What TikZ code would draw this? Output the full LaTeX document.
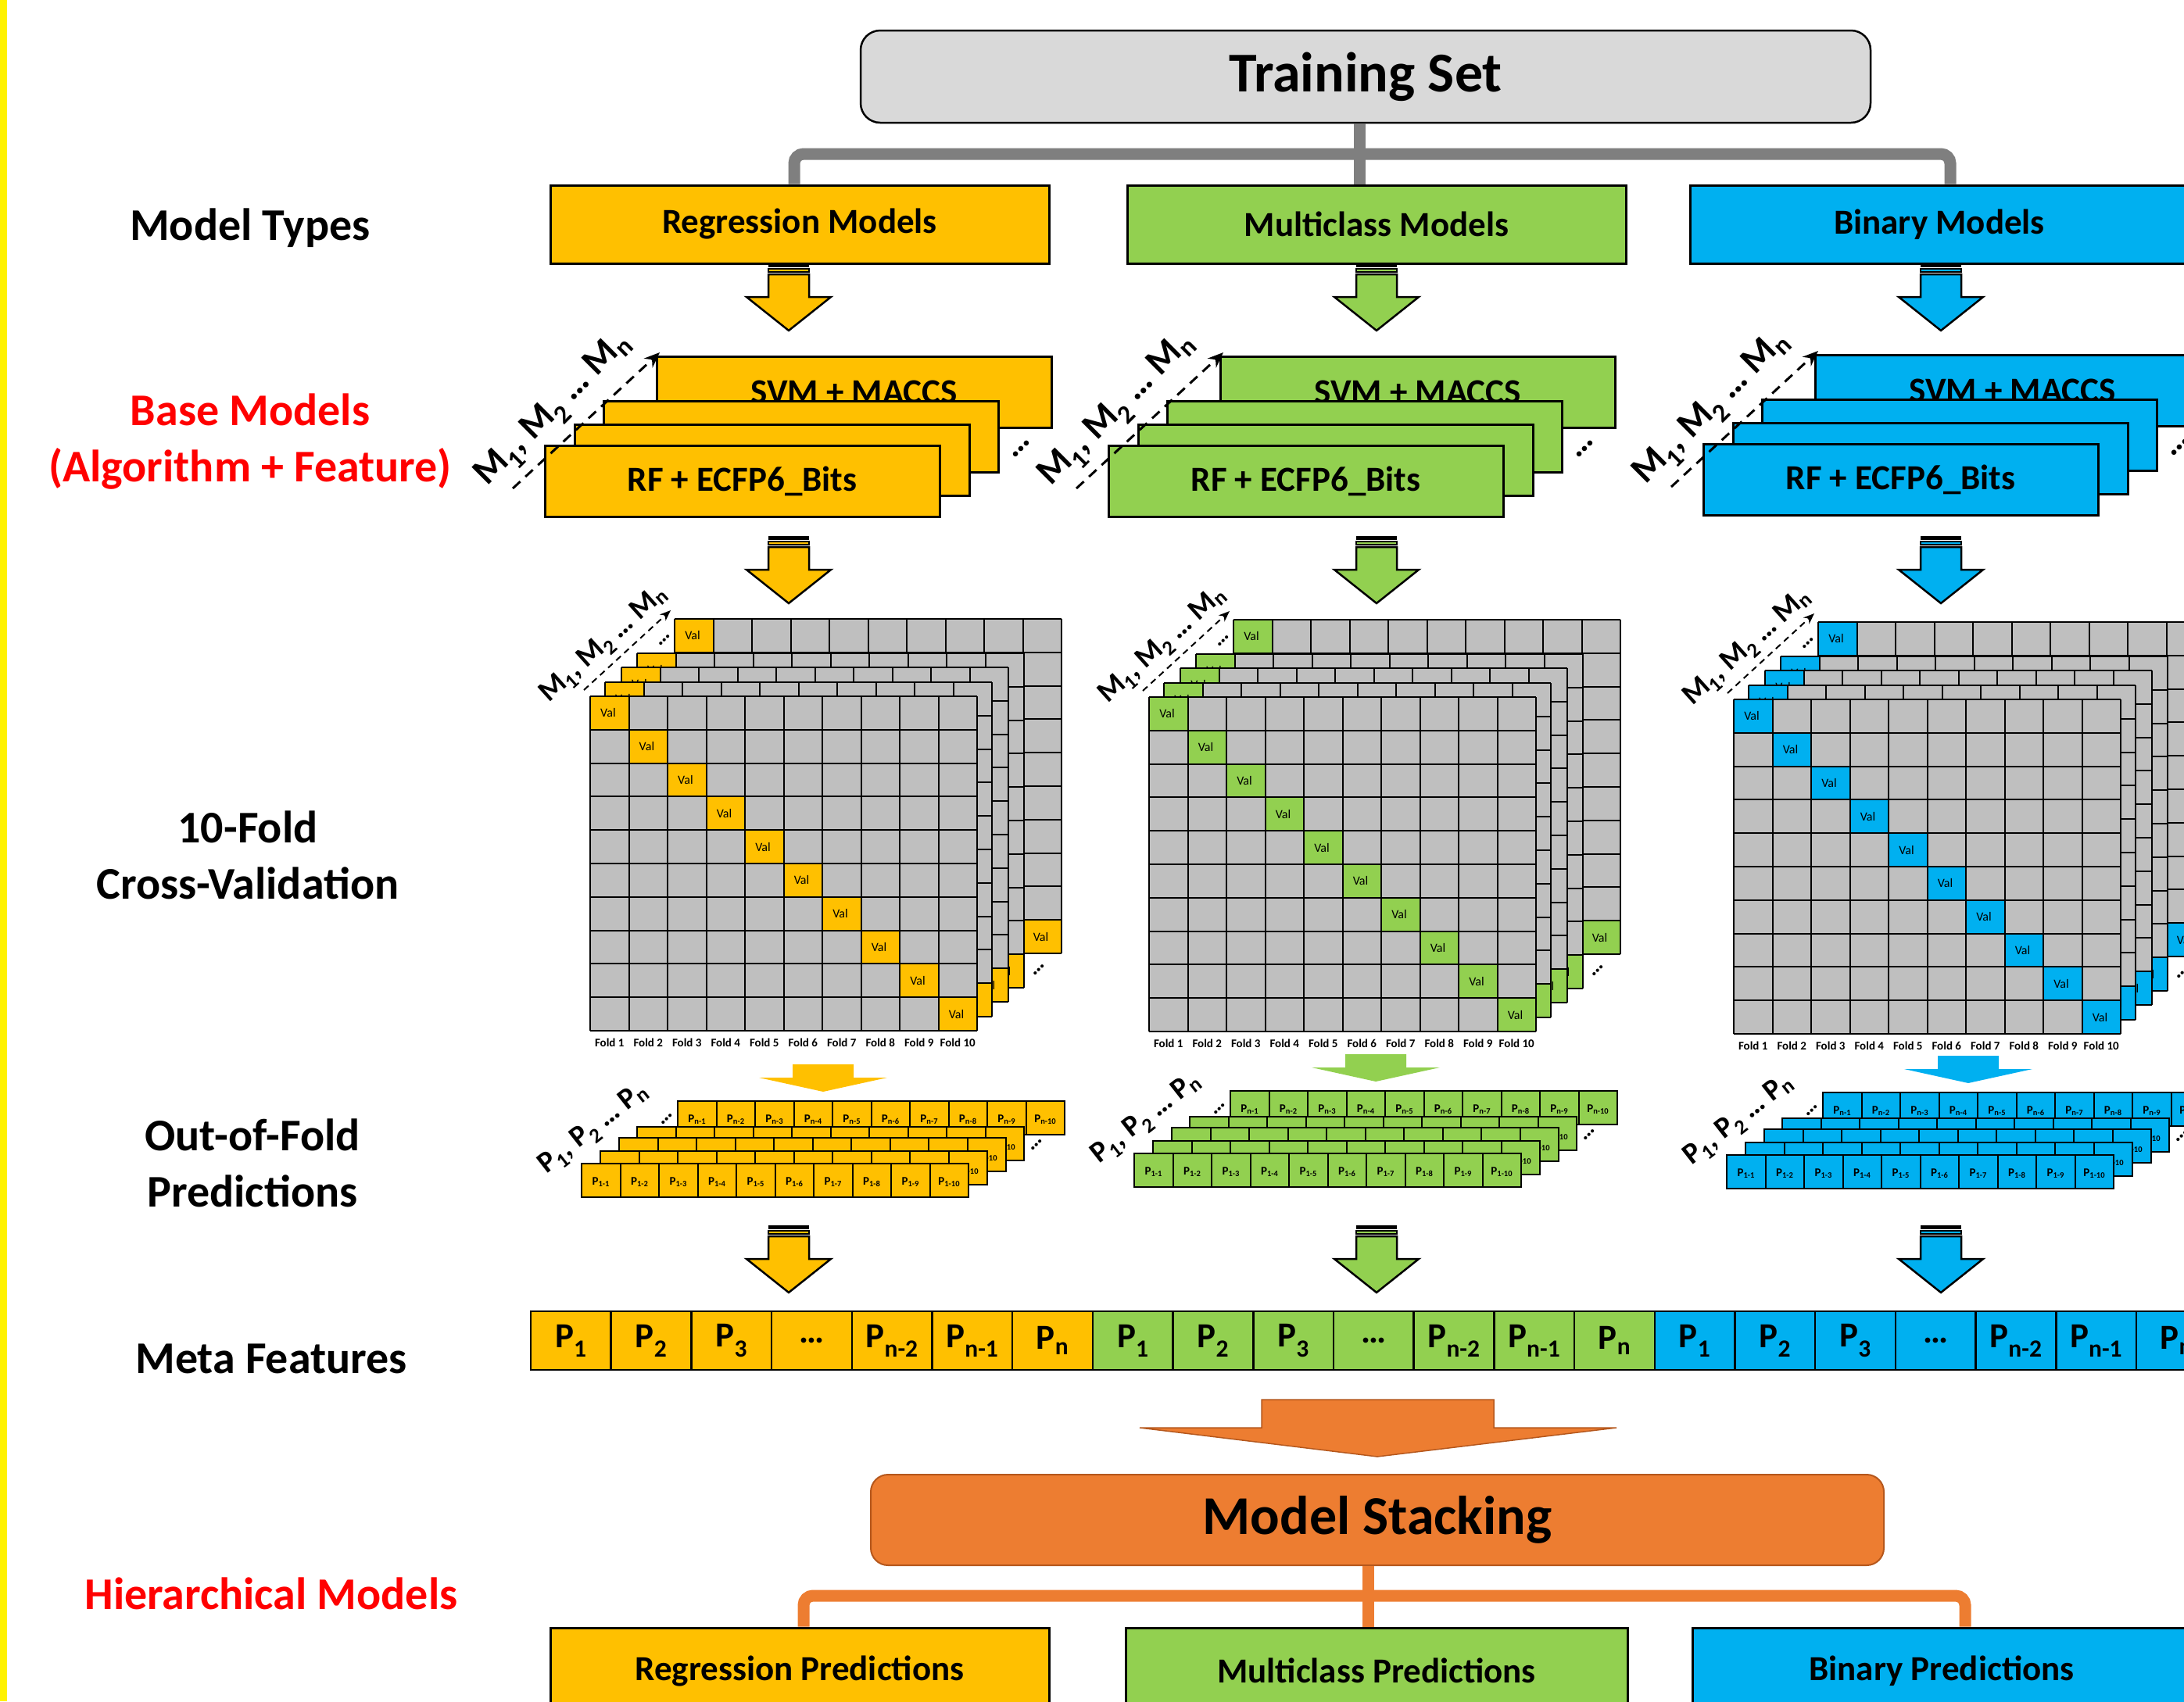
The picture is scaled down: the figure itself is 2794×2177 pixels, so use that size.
\documentclass[tikz,border=0pt]{standalone}
\usepackage{fontspec}
\setmainfont{Carlito}
\usetikzlibrary{arrows.meta}

\definecolor{regyellow}{HTML}{FFC000}
\definecolor{multigreen}{HTML}{92D050}
\definecolor{binblue}{HTML}{00B0F0}
\definecolor{stackorange}{HTML}{ED7D31}
\definecolor{stackedge}{HTML}{B5571C}
\definecolor{cellgray}{HTML}{BFBFBF}
\definecolor{setgray}{HTML}{D9D9D9}
\definecolor{treegray}{HTML}{7F7F7F}

\newcommand{\bfsize}[1]{\fontsize{#1}{#1}\selectfont\bfseries}

\tikzset{
  rowlabel/.style={align=center, inner sep=0pt, font=\fontsize{58}{72}\selectfont\bfseries},
  typebox/.style={draw, line width=3pt, minimum width=638pt, minimum height=100pt,
    inner sep=0pt, font=\bfsize{45}},
  modelbox/.style={draw, line width=3pt, minimum width=505pt, minimum height=91pt,
    inner sep=0pt, font=\bfsize{45}},
  cvline/.style={line width=2pt},
  valtext/.style={font=\fontsize{16}{16}\selectfont, inner sep=0pt},
  foldtext/.style={font=\bfsize{15}, inner sep=0pt},
  ooftext/.style={font=\bfsize{15}, inner sep=0pt},
  metacell/.style={draw, line width=2.5pt, minimum width=102.7pt, minimum height=75pt,
    inner sep=0pt, font=\bfsize{45}},
  tree/.style={line width=15pt},
  blockarrow/.style={line width=2.5pt, line join=miter},
}

% striped block arrow: colour, centre x, top y
\newcommand{\stripearrow}[3]{%
  \fill (#2-26,#3) rectangle (#2+26,#3+5);
  \draw[fill=#1, line width=1.5pt] (#2-26,#3+7) rectangle (#2+26,#3+11);
  \draw[blockarrow, fill=#1] (#2-26,#3+14) -- (#2+26,#3+14) -- (#2+26,#3+43)
    -- (#2+54,#3+43) -- (#2,#3+86) -- (#2-54,#3+43) -- (#2-26,#3+43) -- cycle;
}

% flat arrow without outline: colour, tip x, tip y
\newcommand{\flatarrow}[3]{%
  \fill[#1] (#2-39,#3-35) -- (#2+39,#3-35) -- (#2+39,#3-18) -- (#2+82,#3-18)
    -- (#2,#3) -- (#2-82,#3-18) -- (#2-39,#3-18) -- cycle;
}

% base models: colour, top left corner of the front box
\newcommand{\modelstack}[3]{%
  \begin{scope}[shift={(#2,#3)}]
    \node[modelbox, fill=#1] (svm) at (395.5,-68.5) {SVM + MACCS};
    \node[modelbox, fill=#1] (mid2) at (327.5,-11.5) {};
    \node[modelbox, fill=#1] (mid1) at (290.5,18.5) {};
    \node[modelbox, fill=#1] (rf) at (252.5,45.5) {RF + ECFP6\_Bits};
    \draw[line width=3pt, dash pattern=on 13pt off 9pt, -{Stealth[length=20pt,width=16pt]}]
      (-41,55) -- (147,-119);
    \node[rotate=45, inner sep=0pt, font=\bfsize{48}] (mlabel) at (12,-45)
      {M\textsubscript{1}, M\textsubscript{2} … M\textsubscript{n}};
    \node[rotate=45, inner sep=0pt, font=\bfsize{44}] (mdots) at (609,4) {…};
  \end{scope}
}

% one cross-validation layer: colour, top left corner
\newcommand{\foldlayer}[3]{%
  \begin{scope}[shift={(#2,#3)}]
    \fill[cellgray] (0,0) rectangle (495,428);
    \foreach \k in {0,...,9} {
      \fill[#1] (\k*49.5,\k*42.8) rectangle ++(49.5,42.8);
      \node[valtext] (val-\k) at (\k*49.5+23,\k*42.8+21.4) {Val};
    }
    \foreach \k in {0,...,10} {
      \draw[cvline] (\k*49.5,0) -- (\k*49.5,428);
      \draw[cvline] (0,\k*42.8) -- (495,\k*42.8);
    }
  \end{scope}
}

% stack of layers: colour, top left corner of the front layer
\newcommand{\foldgrid}[3]{%
  \foldlayer{#1}{#2+108}{#3-99}
  \foldlayer{#1}{#2+60}{#3-55}
  \foldlayer{#1}{#2+40}{#3-37}
  \foldlayer{#1}{#2+19}{#3-18}
  \foldlayer{#1}{#2}{#3}
  \begin{scope}[shift={(#2,#3)}]
    \draw[line width=2pt, dash pattern=on 8pt off 6pt, -{Stealth[length=14pt,width=11pt]}]
      (-8,-8) -- (103,-110);
    \node[rotate=42, inner sep=0pt, font=\bfsize{38}] (glabel) at (18,-66)
      {M\textsubscript{1}, M\textsubscript{2} … M\textsubscript{n}};
    \node[rotate=45, inner sep=0pt, font=\bfsize{28}] at (95,-72) {…};
    \node[rotate=45, inner sep=0pt, font=\bfsize{28}] at (574,350) {…};
    \foreach \k in {1,...,10}
      \node[foldtext] (fold-\k) at (\k*49.5-24.75,443) {Fold \k};
  \end{scope}
}

% one row of out-of-fold predictions: colour, top left corner, model index
\newcommand{\predlayer}[4]{%
  \begin{scope}[shift={(#2,#3)}]
    \foreach \k in {1,...,10} {
      \draw[fill=#1, line width=2pt] (\k*49.5-49.5,0) rectangle ++(49.5,43);
      \node[ooftext] (p-#4-\k) at (\k*49.5-24.75,24) {P\textsubscript{#4-\k}};
    }
  \end{scope}
}

\newcommand{\predstack}[3]{%
  \predlayer{#1}{#2+123}{#3-80}{n}
  \predlayer{#1}{#2+71}{#3-47}{4}
  \predlayer{#1}{#2+48}{#3-33}{3}
  \predlayer{#1}{#2+24}{#3-16}{2}
  \predlayer{#1}{#2}{#3}{1}
  \begin{scope}[shift={(#2,#3)}]
    \node[rotate=38, inner sep=0pt, font=\bfsize{38}] (plabel) at (16,-44)
      {P\textsubscript{1}, P\textsubscript{2} … P\textsubscript{n}};
    \node[rotate=45, inner sep=0pt, font=\bfsize{28}] at (109,-57) {…};
    \node[rotate=45, inner sep=0pt, font=\bfsize{28}] at (582,-24) {…};
  \end{scope}
}

\begin{document}
\begin{tikzpicture}[x=1pt, y=-1pt]
  \useasboundingbox (0,0) rectangle (2794,2177);
  \fill[yellow] (0,0) rectangle (9,2177);

  % training set and model types
  \node[draw, fill=setgray, rounded corners=25pt, line width=2.5pt, minimum width=1292pt,
    minimum height=118pt, font=\bfsize{72}] (trainset) at (1747,98) {Training Set};
  \node[typebox, fill=regyellow] (regtype) at (1023,287) {Regression Models};
  \node[typebox, fill=multigreen] (multitype) at (1761,287) {Multiclass Models};
  \node[typebox, fill=binblue] (bintype) at (2481,287) {Binary Models};
  \coordinate (gbar) at (0,197);
  \draw[tree, treegray] ([xshift=-8pt]trainset.south) -- ([xshift=-8pt]trainset.south |- multitype.north);
  \draw[tree, treegray, rounded corners=12pt] ([xshift=-7pt]regtype.north)
    -- ([xshift=-7pt]regtype.north |- gbar) -- ([xshift=14pt]bintype.north |- gbar)
    -- ([xshift=14pt]bintype.north);

  \stripearrow{regyellow}{1009}{337}
  \stripearrow{multigreen}{1761}{337}
  \stripearrow{binblue}{2483}{337}

  % base models
  \modelstack{regyellow}{697}{570}
  \modelstack{multigreen}{1418}{570}
  \modelstack{binblue}{2179}{568}

  \stripearrow{regyellow}{1009}{686}
  \stripearrow{multigreen}{1761}{686}
  \stripearrow{binblue}{2483}{686}

  % 10-fold cross-validation
  \foldgrid{regyellow}{755}{891}
  \foldgrid{multigreen}{1470}{892}
  \foldgrid{binblue}{2218}{895}

  \flatarrow{regyellow}{1053}{1397}
  \flatarrow{multigreen}{1760}{1384}
  \flatarrow{binblue}{2518}{1386}

  % out-of-fold predictions
  \predstack{regyellow}{744}{1489}
  \predstack{multigreen}{1451}{1476}
  \predstack{binblue}{2209}{1478}

  \stripearrow{regyellow}{1009}{1568}
  \stripearrow{multigreen}{1761}{1568}
  \stripearrow{binblue}{2483}{1568}

  % meta features
  \foreach \lab [count=\i from 0] in {P\textsubscript{1},P\textsubscript{2},P\textsubscript{3},
      …,P\textsubscript{n-2},P\textsubscript{n-1},P\textsubscript{n}} {
    \foreach \col/\j in {regyellow/0, multigreen/1, binblue/2}
      \node[metacell, fill=\col] (meta-\j-\i) at (730.35+\j*718.9+\i*102.7,1715.5) {\lab};
  }

  \draw[fill=stackorange, draw=stackedge, line width=1.5pt] (1614,1791) -- (1911,1791)
    -- (1911,1827) -- (2068,1827) -- (1762,1864) -- (1458,1827) -- (1614,1827) -- cycle;

  % model stacking
  \node[draw=stackedge, fill=stackorange, rounded corners=22pt, line width=2pt,
    minimum width=1296pt, minimum height=116pt, font=\bfsize{70}] (stacking) at (1762,1945)
    {Model Stacking};
  \node[typebox, fill=regyellow, minimum height=110pt] (regpred) at (1023,2138) {Regression Predictions};
  \node[typebox, fill=multigreen, minimum height=110pt, minimum width=642pt] (multipred) at (1761,2138) {Multiclass Predictions};
  \node[typebox, fill=binblue, minimum height=110pt] (binpred) at (2484,2138) {Binary Predictions};
  \coordinate (obar) at (0,2042);
  \draw[tree, stackorange] ([xshift=-12pt]stacking.south) -- ([xshift=-12pt]stacking.south |- multipred.north);
  \draw[tree, stackorange, rounded corners=12pt] ([xshift=5pt]regpred.north)
    -- ([xshift=5pt]regpred.north |- obar) -- ([xshift=30pt]binpred.north |- obar)
    -- ([xshift=30pt]binpred.north);

  % row labels
  \node[rowlabel] (lbl-types) at (320,292) {Model Types};
  \node[rowlabel, text=red] (lbl-base) at (320,565) {Base Models\\(Algorithm + Feature)};
  \node[rowlabel] (lbl-cv) at (317,1094) {10-Fold\\Cross-Validation};
  \node[rowlabel] (lbl-oof) at (323,1488) {Out-of-Fold\\Predictions};
  \node[rowlabel] (lbl-meta) at (347,1739) {Meta Features};
  \node[rowlabel, text=red] (lbl-hier) at (347,2039) {Hierarchical Models};
\end{tikzpicture}
\end{document}
